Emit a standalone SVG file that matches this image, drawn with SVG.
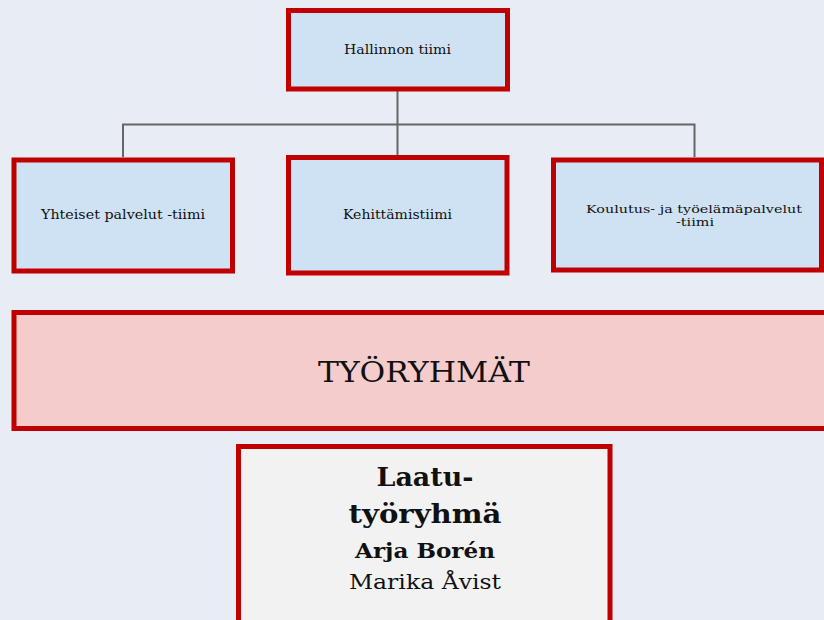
<svg xmlns="http://www.w3.org/2000/svg" width="824" height="620" viewBox="0 0 824 620">
<style>
.box{stroke:#c00000;stroke-width:5}
.blue{fill:#cfe2f3}
.t{font-family:"DejaVu Serif","Liberation Serif",serif;fill:#111;text-anchor:middle}
.s{font-size:12px}
.conn{fill:none;stroke:#666;stroke-width:2}
</style>
<rect width="824" height="620" fill="#e7ecf5"/>
<g id="connectors">
<path class="conn" d="M397.5 91 V124.5 M123 157 V124.5 H694.5 V157 M397.5 124.5 V155"/>
</g>
<g id="hallinnon">
<rect class="box blue" x="288.5" y="10.5" width="219" height="78.5"/>
<text class="t s" x="397.5" y="54" textLength="107" lengthAdjust="spacingAndGlyphs">Hallinnon tiimi</text>
</g>
<g id="yhteiset">
<rect class="box blue" x="14" y="160" width="218.5" height="111"/>
<text class="t s" x="123" y="219" textLength="164" lengthAdjust="spacingAndGlyphs">Yhteiset palvelut -tiimi</text>
</g>
<g id="kehittamis">
<rect class="box blue" x="288.5" y="157.5" width="218.5" height="115.5"/>
<text class="t s" x="397.5" y="219" textLength="109" lengthAdjust="spacingAndGlyphs">Kehittämistiimi</text>
</g>
<g id="koulutus">
<rect class="box blue" x="553.5" y="160" width="268" height="110"/>
<text class="t" x="694" y="212.5" font-size="11.5" textLength="216" lengthAdjust="spacingAndGlyphs">Koulutus- ja työelämäpalvelut</text>
<text class="t" x="695" y="226" font-size="11.5" textLength="38" lengthAdjust="spacingAndGlyphs">-tiimi</text>
</g>
<g id="tyoryhmat">
<rect class="box" fill="#f4cccc" x="14" y="312.5" width="822" height="116"/>
<text class="t" x="424" y="382" font-size="27" textLength="212" lengthAdjust="spacingAndGlyphs">TYÖRYHMÄT</text>
</g>
<g id="laatu">
<rect class="box" fill="#f2f2f2" x="238.5" y="446.5" width="371.5" height="180"/>
<text class="t" x="425" y="485.5" font-size="26" font-weight="bold" textLength="97" lengthAdjust="spacingAndGlyphs">Laatu-</text>
<text class="t" x="425" y="522.5" font-size="26" font-weight="bold" textLength="153" lengthAdjust="spacingAndGlyphs">työryhmä</text>
<text class="t" x="425" y="558" font-size="20" font-weight="bold" textLength="140" lengthAdjust="spacingAndGlyphs">Arja Borén</text>
<text class="t" x="425" y="589" font-size="20" textLength="152" lengthAdjust="spacingAndGlyphs">Marika Åvist</text>
</g>
</svg>
